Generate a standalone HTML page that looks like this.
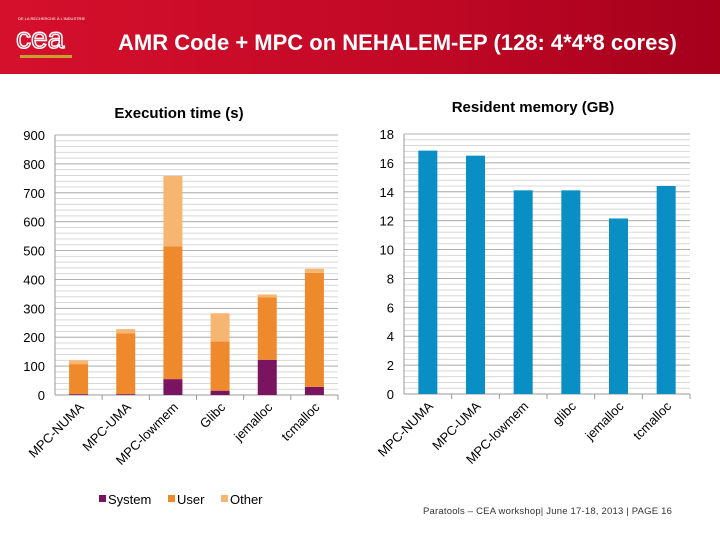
<!DOCTYPE html>
<html><head><meta charset="utf-8"><style>
body{margin:0;width:720px;height:540px;background:#fff;overflow:hidden;font-family:"Liberation Sans",sans-serif}
#hdr{position:absolute;left:0;top:0;width:720px;height:74px;background:linear-gradient(90deg,#d5102c,#c00825 60%,#a4001c)}
svg{position:absolute;left:0;top:0}
</style></head><body>
<div id="hdr"></div>
<svg width="720" height="540" id="s">
<text x="18" y="20" font-size="4" fill="#fff">DE LA RECHERCHE À L'INDUSTRIE</text>
<text x="16" y="48" font-size="30" fill="none" stroke="#fff" stroke-width="1.5" font-family="Liberation Sans">cea</text>
<rect x="20" y="55" width="52" height="3" fill="#c8a030"/>
<text x="118" y="50" font-size="22" font-weight="bold" fill="#fff">AMR Code + MPC on NEHALEM-EP (128: 4*4*8 cores)</text>
<text x="179" y="118" font-size="15" font-weight="bold" text-anchor="middle" fill="#000">Execution  time (s)</text>
<text x="533" y="112" font-size="15" font-weight="bold" text-anchor="middle" fill="#000">Resident memory (GB)</text>
<g id="L"></g><g id="R"></g>
<rect x="99" y="495" width="7" height="7" fill="#7b1460"/>
<text x="108" y="504" font-size="13">System</text>
<rect x="168" y="495" width="7" height="7" fill="#ef8a2c"/>
<text x="177" y="504" font-size="13">User</text>
<rect x="221" y="495" width="7" height="7" fill="#f6b570"/>
<text x="230" y="504" font-size="13">Other</text>
<text x="423" y="514" font-size="9.5" letter-spacing="0.2" fill="#333">Paratools – CEA workshop| June 17-18, 2013 | PAGE 16</text>
</svg>
<script>
const cats1=["MPC-NUMA","MPC-UMA","MPC-lowmem","Glibc","jemalloc","tcmalloc"];
const systemVals=[3,3,55,15,122,28];
const userVals=[104,210,460,170,216,395];
const otherVals=[13,15,243,98,10,14];
const ticks1=[0,100,200,300,400,500,600,700,800,900];
const cats2=["MPC-NUMA","MPC-UMA","MPC-lowmem","glibc","jemalloc","tcmalloc"];
const memVals=[16.85,16.5,14.1,14.1,12.15,14.4];
const ticks2=[0,2,4,6,8,10,12,14,16,18];
const NS="http://www.w3.org/2000/svg";
function mk(p,t,a){const e=document.createElementNS(NS,t);for(const k in a)e.setAttribute(k,a[k]);p.appendChild(e);return e;}
function chart(g,x0,x1,yb,yt,max,minor,ticks,cats,series,colors,pref){
  const y=v=>yb-(v/max)*(yb-yt);
  const bw=(x1-x0)/cats.length;
  for(let v=minor;v<=max+1e-9;v+=minor){
    const l=mk(g,'line',{x1:x0,x2:x1,y1:y(v),y2:y(v),stroke:'#d8d8d8','stroke-width':1});
    
    
  }
  ticks.forEach(t=>{
    const l=mk(g,'line',{x1:x0,x2:x1,y1:y(t),y2:y(t),stroke:'#b0b0b0','stroke-width':1});
    
    
    const tx=mk(g,'text',{x:x0-10,y:y(t)+5,'font-size':13,'text-anchor':'end'});tx.textContent=t;
    
    
  });
  const ax=mk(g,'line',{x1:x0,x2:x0,y1:yt,y2:yb,stroke:'#999'});
  
  
  const xa=mk(g,'line',{x1:x0,x2:x1,y1:yb,y2:yb,stroke:'#999'});
  
  
  cats.forEach((c,i)=>{
    const cx=x0+bw*(i+0.5);
    const tk=mk(g,'line',{x1:x0+bw*(i+1),x2:x0+bw*(i+1),y1:yb,y2:yb+5,stroke:'#999'});
    
    
    let acc=0;
    series.forEach((s,j)=>{
      const r=mk(g,'rect',{x:cx-9.5,width:19,y:y(acc+s[i]),height:y(acc)-y(acc+s[i]),fill:colors[j]});
      
      
      acc+=s[i];
    });
    const t=mk(g,'text',{x:cx+6,y:yb+13,'font-size':13,'text-anchor':'end',transform:`rotate(-45 ${cx+6} ${yb+13})`});
    t.textContent=c;
    
    
  });
}
chart(document.getElementById('L'),55,338,395,135,900,20,ticks1,cats1,[systemVals,userVals,otherVals],['#7b1460','#ef8a2c','#f6b570'],'exec-');
chart(document.getElementById('R'),404,690,394,134,18,0.4,ticks2,cats2,[memVals],['#0a8fc4'],'mem-');
</script>
</body></html>
